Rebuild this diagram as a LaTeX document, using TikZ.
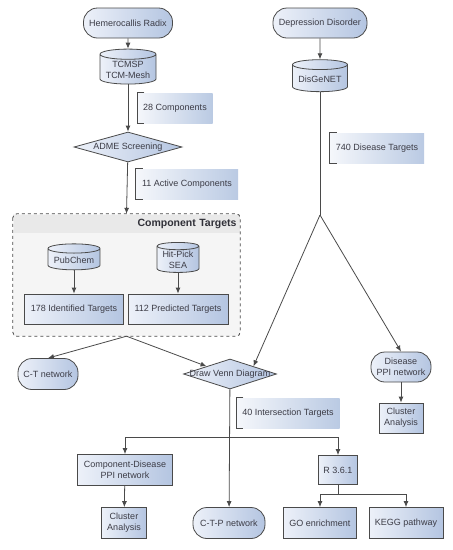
\documentclass[tikz,border=0pt]{standalone}
\usepackage{fontspec}
\setmainfont{Liberation Sans}
\usepackage{xcolor}
\usepackage{tikz}
\usetikzlibrary{arrows.meta,shapes.geometric,backgrounds,positioning}

\definecolor{linegray}{HTML}{4A4A4A}
\definecolor{txtgray}{HTML}{3C3C46}
\definecolor{fillA}{HTML}{EDF1F9}
\definecolor{fillB}{HTML}{B4C5E1}
\definecolor{noteA}{HTML}{F5F7FB}
\definecolor{noteB}{HTML}{BACAE3}
\definecolor{grpfill}{HTML}{F5F5F5}
\definecolor{headfill}{HTML}{E9E9E9}

\tikzset{
  base/.style={draw=linegray, line width=0.8pt, text=txtgray,
    font=\fontsize{9}{11}\selectfont, left color=fillA, right color=fillB,
    inner sep=1pt, align=center},
  term/.style={base, rectangle, rounded corners=14pt, minimum height=30pt},
  db/.style={base, cylinder, shape border rotate=90, aspect=0.22},
  proc/.style={base, rectangle, minimum height=30pt},
  dec/.style={base, diamond, aspect=3, inner sep=0pt, minimum height=30pt},
  note/.style={rectangle, left color=noteA, right color=noteB, text=txtgray,
    font=\fontsize{9}{11}\selectfont, minimum height=30pt},
  arr/.style={draw=linegray, line width=0.8pt, -{Latex[length=6pt,width=5pt]}},
  line/.style={draw=linegray, line width=0.8pt}
}

\begin{document}
\begin{tikzpicture}[x=1pt,y=-1pt]
  \useasboundingbox (0,0) rectangle (453,550);

  % herb side
  \node [term, minimum width=89pt] (hr) at (128,23) {Hemerocallis Radix};
  \node [db, minimum width=56pt, minimum height=35pt] (tcm) at (128,70) {TCMSP\\TCM-Mesh};
  \node [note, minimum width=75pt] (n28) at (175,108) {28 Components};
  \node [dec, minimum width=108pt] (adme) at (128,147) {\makebox[0pt]{ADME Screening}};
  \node [note, minimum width=102pt] (n11) at (187,184) {11 Active Components};

  % component targets group
  \node [rectangle, fill=grpfill, minimum width=227pt, minimum height=122pt] (ctgroup) at (126.5,275) {};
  \node [rectangle, fill=headfill, anchor=north, minimum width=226pt, minimum height=18pt,
    text width=220pt, align=right, inner sep=2pt, text=txtgray!80!black,
    font=\fontsize{10.5}{12}\selectfont\bfseries] (cthead) at ([yshift=-0.5pt]ctgroup.north) {Component Targets};
  \draw [linegray, line width=0.8pt, dashed, rounded corners=4pt]
    (ctgroup.north west) rectangle (ctgroup.south east);
  \node [db, minimum width=52pt, minimum height=26pt] (pub) at (74,260) {PubChem};
  \node [db, minimum width=42pt, minimum height=30pt] (hit) at (178,260) {Hit-Pick\\SEA};
  \node [proc, minimum width=99pt] (ident) at (74,309) {178 Identified Targets};
  \node [proc, minimum width=100pt] (pred) at (178,309) {112 Predicted Targets};

  \node [term, minimum width=60pt, minimum height=31pt] (ctnet) at (48,374) {C-T network};
  \node [dec, minimum width=93pt] (venn) at (230,374) {\makebox[0pt]{Draw Venn Diagram}};

  % disease side
  \node [term, minimum width=94pt] (dd) at (320,23) {Depression Disorder};
  \node [db, minimum width=55pt, minimum height=32pt] (dis) at (320,79) {DisGeNET};
  \node [note, minimum width=94pt] (n740) at (377,148) {740 Disease Targets};
  \coordinate (split) at (320,215);
  \node [term, minimum width=60pt] (dppi) at (401,367) {Disease\\PPI network};
  \node [proc, minimum width=44pt] (dclus) at (401,418) {Cluster\\Analysis};

  % intersection
  \node [note, minimum width=103pt] (n40) at (288,413) {40 Intersection Targets};
  \coordinate (vsplit) at (230,437);
  \node [proc, minimum width=95pt, minimum height=31pt] (cdppi) at (125,470) {Component-Disease\\PPI network};
  \node [proc, minimum width=45pt, minimum height=31pt] (cclus) at (124,523) {Cluster\\Analysis};
  \node [term, minimum width=72pt, minimum height=31pt] (ctp) at (229,523) {C-T-P network};
  \node [proc, minimum width=39pt, minimum height=29pt] (rver) at (338,470) {R 3.6.1};
  \coordinate (rsplit) at (338,494);
  \node [proc, minimum width=73pt, minimum height=31pt] (go) at (320,523) {GO enrichment};
  \node [proc, minimum width=74pt, minimum height=31pt] (kegg) at (406,523) {KEGG pathway};

  % brackets of the notes
  \foreach \n in {n28,n11,n740,n40}
    \draw [line] ([xshift=7pt]\n.north west) -- (\n.north west) -- (\n.south west) -- ([xshift=7pt]\n.south west);

  % connectors
  \draw [arr] (hr) -- (tcm);
  \draw [arr] (tcm) -- (adme);
  \draw [arr] (adme) -- (ctgroup.north);
  \draw [arr] (pub) -- (ident);
  \draw [arr] (hit) -- (pred);
  \draw [arr] (ctgroup.south) -- (ctnet.north);
  \draw [arr] (ctgroup.south) -- (venn.north west);
  \draw [arr] (dd) -- (dis);
  \draw [line] (dis) -- (split);
  \draw [arr] (split) -- (venn.north east);
  \draw [arr] (split) -- (dppi.north);
  \draw [arr] (dppi) -- (dclus);
  \draw [arr] (venn) -- (ctp);
  \draw [arr] (vsplit) -| (cdppi);
  \draw [arr] (vsplit) -| (rver);
  \draw [arr] (cdppi) -- (cclus);
  \draw [line] (rver) -- (rsplit);
  \draw [arr] (rsplit) -| (go);
  \draw [arr] (rsplit) -| (kegg);
\end{tikzpicture}
\end{document}
